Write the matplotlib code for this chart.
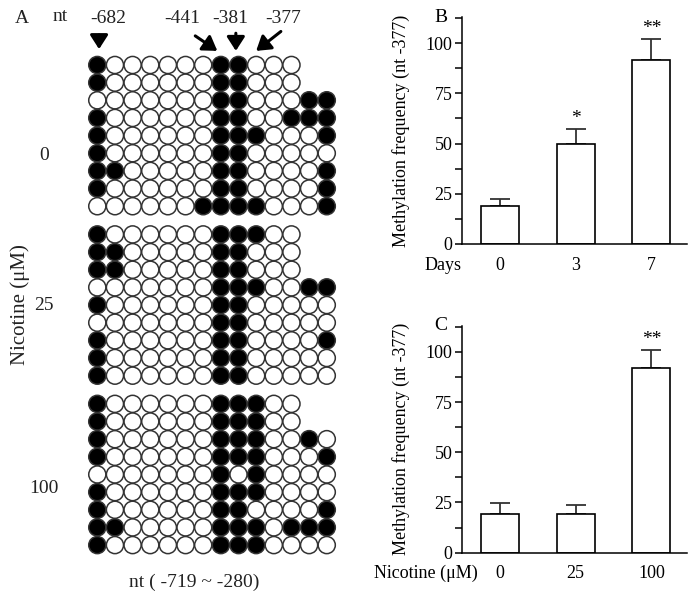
import matplotlib
matplotlib.use('Agg')
import matplotlib.pyplot as plt
import numpy as np

plt.rcParams['font.family'] = ['Liberation Serif', 'DejaVu Serif']
plt.rcParams['mathtext.fontset'] = 'stix'

# panel A: methylation status per clone, 1 = methylated (filled), 0 = unmethylated
group_names = ['0', '25', '100']
clones_0 = ['100000011000', '100000011000', '00000001100011', '10000001100111',
            '10000001110001', '10000001100000', '11000001100001', '10000001100001',
            '00000011110001']
clones_25 = ['100000011100', '110000011000', '110000011000', '00000001110011',
             '10000001100000', '00000001100000', '10000001100001', '10000001100000',
             '10000001100000']
clones_100 = ['100000011100', '100000011100', '10000001110010', '10000001110001',
              '00000001010000', '10000001110000', '10000001100001', '11000001110111',
              '10000001110000']
groups = [clones_0, clones_25, clones_100]

site_labels = ['-682', '-441', '-381', '-377']

# panel B: days of nicotine exposure
days = ['0', '3', '7']
days_freq = [19, 50, 91.7]
days_err = [3.3, 7, 10.3]
days_sig = ['', '*', '**']

# panel C: nicotine dose
doses = ['0', '25', '100']
dose_freq = [19.3, 19.3, 91.7]
dose_err = [5.3, 4.4, 9.1]
dose_sig = ['', '', '**']

W, H = 698, 594
fig = plt.figure(figsize=(W / 100, H / 100), dpi=100)


def fx(px):
    return px / W


def fy(py):
    return 1 - py / H


# ---- panel A ----
x0, sp, y0 = 97.3, 17.65, 65.0
axA = fig.add_axes([0, 0, fx(400), 1])
axA.set_xlim((0 - x0) / sp, (400 - x0) / sp)
axA.set_ylim((H - y0) / sp, (0 - y0) / sp)
axA.axis('off')

group_gap = 9.6
for g, clones in enumerate(groups):
    for r, row in enumerate(clones):
        cols = np.arange(len(row))
        state = np.array([int(c) for c in row])
        y = np.full(len(row), g * group_gap + r)
        face = np.where(state == 1, 'black', 'white')
        axA.scatter(cols, y, s=152, c=list(face), edgecolors='#333333',
                    linewidths=1.1, zorder=3)
    mid = g * group_gap + (len(clones) - 1) / 2
    axA.text(-3.0, mid + [1.1, 0.0, 0.8][g], group_names[g], fontsize=14,
             ha='center', va='center', color='#222222')

axA.text(-4.4, 13.6, 'Nicotine (μM)', rotation=90, fontsize=15,
         ha='center', va='center', color='#222222')
axA.text(5.48, 29.3, 'nt ( -719 ~ -280)', fontsize=14, ha='center',
         va='center', color='#222222')
axA.text(-4.27, -2.66, 'A', fontsize=14, ha='center', va='center', color='#222222')
axA.text(-2.1, -2.75, 'nt', fontsize=14, ha='center', va='center', color='#222222')

label_cols = [0.61, 4.8, 7.52, 10.52]
for lab, c in zip(site_labels, label_cols):
    axA.text(c, -2.66, lab, fontsize=14, ha='center', va='center', color='#222222')

arrow_tails = [(0.1, -1.7), (5.55, -1.65), (7.85, -1.8), (10.4, -1.9)]
arrow_heads = [(0.1, -0.9), (6.8, -0.8), (7.85, -0.8), (9.0, -0.8)]
for t, h in zip(arrow_tails, arrow_heads):
    axA.annotate('', xy=h, xytext=t,
                 arrowprops=dict(arrowstyle='-|>,head_width=0.45,head_length=0.7',
                                 lw=2.2, color='black', mutation_scale=12,
                                 shrinkA=0, shrinkB=0))


# ---- panels B and C ----
def bar_panel(rect, labels, vals, errs, sig, letter):
    ax = fig.add_axes(rect)
    x = np.arange(len(vals))
    ax.bar(x, vals, width=0.5, color='white', edgecolor='black', linewidth=1.2, zorder=2)
    ax.errorbar(x, vals, yerr=[np.zeros(len(errs)), errs], fmt='none',
                ecolor='#333333', elinewidth=1.3, capsize=7, capthick=1.3, zorder=1)
    for xi, v, e, s in zip(x, vals, errs, sig):
        if s:
            ax.text(xi, v + e + 1.0, s, ha='center', va='bottom', fontsize=14)
    ax.set_xlim(-0.5, 2.47)
    ax.set_ylim(0, 113)
    ax.set_yticks([0, 25, 50, 75, 100])
    ax.set_yticks(np.arange(12.5, 113, 25), minor=True)
    ax.set_xticks(x)
    ax.set_xticklabels(labels)
    ax.tick_params(axis='y', which='both', direction='out', length=5, width=1.1,
                   labelsize=13, pad=2)
    ax.tick_params(axis='x', length=0, labelsize=13, pad=9)
    for s in ['top', 'right']:
        ax.spines[s].set_visible(False)
    for s in ['left', 'bottom']:
        ax.spines[s].set_linewidth(1.1)
    ax.set_ylabel('Methylation frequency (nt -377)', fontsize=13)
    ax.yaxis.set_label_coords(-0.23, 0.5)
    ax.text(-0.095, 1.0, letter, transform=ax.transAxes, fontsize=14,
            ha='center', va='center')
    return ax


axB = bar_panel([fx(462), fy(244), fx(225), 227 / H], days, days_freq, days_err,
                days_sig, 'B')
fig.text(fx(462), fy(265), 'Days', fontsize=13, ha='right', va='center')

axC = bar_panel([fx(462), fy(552.7), fx(225), 227 / H], doses, dose_freq, dose_err,
                dose_sig, 'C')
fig.text(fx(478), fy(573), 'Nicotine (μM)', fontsize=13, ha='right', va='center')

fig.savefig('out.png', dpi=100)
